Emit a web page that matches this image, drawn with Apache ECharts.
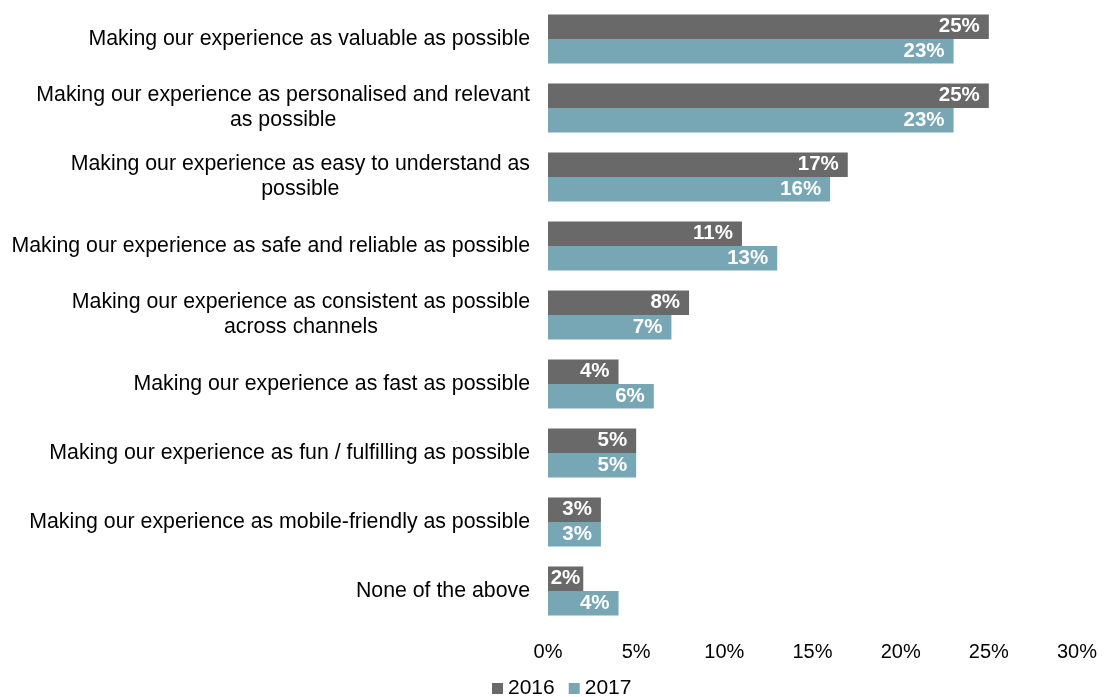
<!DOCTYPE html>
<html><head><meta charset="utf-8">
<script src="https://cdn.jsdelivr.net/npm/echarts@6/dist/echarts.min.js"></script>
<style>html,body{margin:0;padding:0;background:#fff}#c{width:1104px;height:697px}</style>
</head><body><div id="c"></div>
<script>
const categories = [
  "Making our experience as valuable as possible",
  "Making our experience as personalised and relevant\nas possible",
  "Making our experience as easy to understand as\npossible",
  "Making our experience as safe and reliable as possible",
  "Making our experience as consistent as possible\nacross channels",
  "Making our experience as fast as possible",
  "Making our experience as fun / fulfilling as possible",
  "Making our experience as mobile-friendly as possible",
  "None of the above"
];
const values2016 = [25, 25, 17, 11, 8, 4, 5, 3, 2];
const values2017 = [23, 23, 16, 13, 7, 6, 5, 3, 4];
const seriesNames = ["2016", "2017"];
const xTicks = [0, 5, 10, 15, 20, 25, 30];

const FONT = "Liberation Sans";
const chart = echarts.init(document.getElementById('c'));
const labelStyle = {
  show: true, position: 'insideRight', distance: 9,
  formatter: p => p.value + '%', color: '#fff', fontWeight: 'bold',
  fontSize: 20.5, fontFamily: FONT
};
const toItems = arr => arr.map(v => v < 3 ? { value: v, label: { distance: 3 } } : v);
chart.setOption({
  animation: false,
  textStyle: { fontFamily: FONT },
  grid: { left: 548, right: 27, top: 4.5, bottom: 71.5, containLabel: false },
  legend: {
    bottom: -2, left: 492, padding: 0, itemWidth: 11, itemHeight: 11, itemGap: 14,
    icon: 'rect', textStyle: { fontSize: 21, color: '#000', fontFamily: FONT },
    data: seriesNames
  },
  xAxis: {
    type: 'value', min: xTicks[0], max: xTicks[xTicks.length - 1], interval: 5,
    axisLine: { show: false }, axisTick: { show: false }, splitLine: { show: false },
    axisLabel: { formatter: '{value}%', fontSize: 20, color: '#000', margin: 17, fontFamily: FONT }
  },
  yAxis: {
    type: 'category', inverse: true, data: categories,
    axisLine: { show: false }, axisTick: { show: false },
    axisLabel: {
      fontSize: 21.3, color: '#000', margin: 18, fontFamily: FONT, lineHeight: 25,
      formatter: v => v.split('\n').map(l => '{c|' + l + '}').join('\n'),
      rich: { c: { align: 'center', fontSize: 21.3, color: '#000', fontFamily: FONT, lineHeight: 25 } }
    }
  },
  series: [
    { name: seriesNames[0], type: 'bar', data: toItems(values2016), barWidth: 24.5, barGap: '0%',
      itemStyle: { color: '#696969' }, label: labelStyle },
    { name: seriesNames[1], type: 'bar', data: toItems(values2017), barWidth: 24.5, barGap: '0%',
      itemStyle: { color: '#77a7b5' }, label: labelStyle }
  ]
});
</script></body></html>
